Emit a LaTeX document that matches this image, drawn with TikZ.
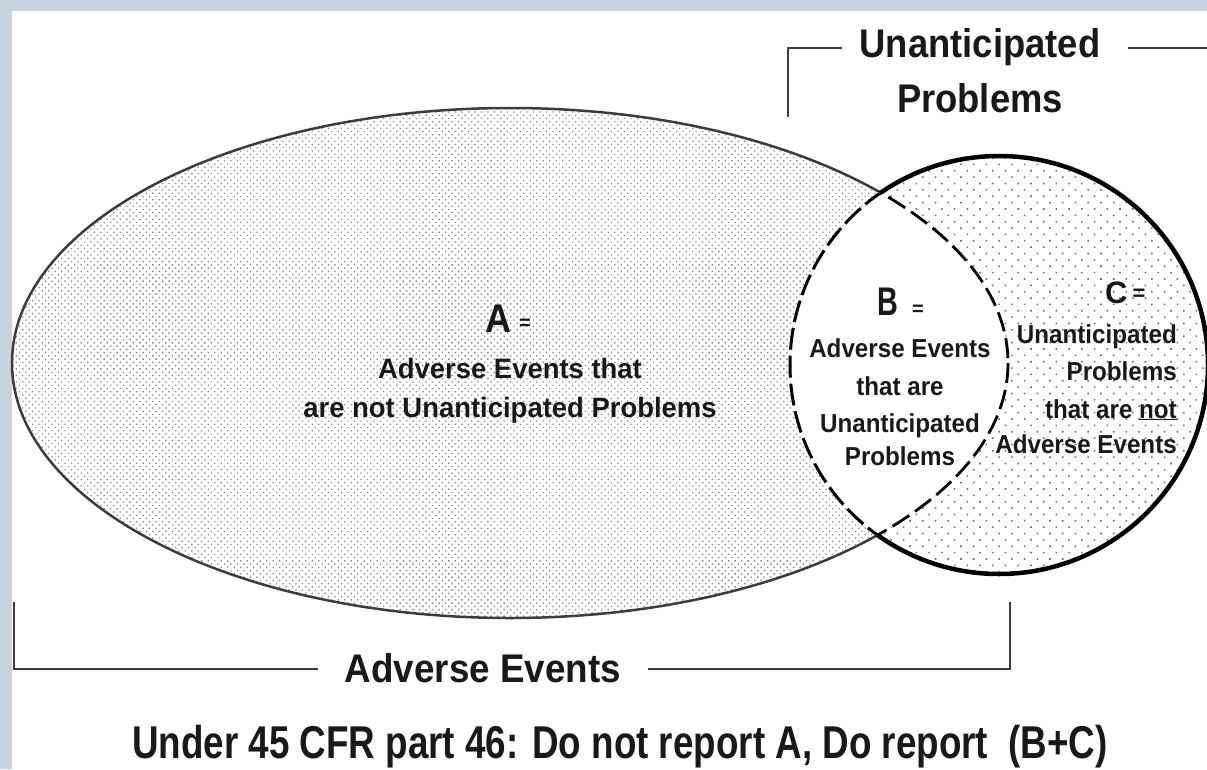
\documentclass[tikz,border=0pt]{standalone}
\usepackage{fontspec}
\setmainfont{Liberation Sans}
\usepackage{graphicx}
\usetikzlibrary{patterns.meta}
\definecolor{framecol}{HTML}{C9D3DB}
\definecolor{lineg}{HTML}{3C3C3C}
\newcommand\sx[2]{\scalebox{#1}[1]{#2}}
\newcommand\fs[1]{\fontsize{#1}{#1}\selectfont\bfseries}
\begin{document}
\begin{tikzpicture}[x=1pt,y=-1pt,
  lbl/.style={inner sep=0pt, anchor=base, text=black!90},
  lblw/.style={inner sep=0pt, anchor=base west, text=black!90},
  lble/.style={inner sep=0pt, anchor=base east, text=black!90},
  bracket/.style={draw=lineg, line width=2.5pt},
  ellfill/.style={pattern={Dots[radius=0.95pt,distance=4.6pt,angle=45]}, pattern color=black!45},
  cfill/.style={pattern={Dots[radius=1.15pt,distance=9pt,angle=45]}, pattern color=black!55},
  ellsolid/.style={draw=lineg, line width=2.5pt},
  elldash/.style={draw=black, line width=2.8pt, dash pattern=on 20pt off 7pt},
  circsolid/.style={draw=black, line width=4.5pt},
  circdash/.style={draw=black, line width=3pt, dash pattern=on 22pt off 6pt}]
\useasboundingbox (0,0) rectangle (1207,769);
\fill[framecol] (0,0) rectangle (1207,769);
\fill[white] (12,11) rectangle (1207,769);

\def\ecx{510}\def\ecy{363}\def\erx{498}\def\ery{255}
\def\ccx{999}\def\ccy{365}\def\crad{209}

% fills
\fill[ellfill] (\ecx,\ecy) ellipse [x radius=\erx, y radius=\ery];
\fill[white] (\ccx,\ccy) circle [radius=\crad];
\fill[cfill] (\ccx,\ccy) circle [radius=\crad];
\begin{scope}
  \clip (\ccx,\ccy) circle [radius=\crad];
  \fill[white] (\ecx,\ecy) ellipse [x radius=\erx, y radius=\ery];
  \path[elldash] (\ecx,\ecy) ellipse [x radius=\erx, y radius=\ery];
\end{scope}
\begin{scope}
  \clip (\ecx,\ecy) ellipse [x radius=\erx, y radius=\ery];
  \path[circdash] (\ccx,\ccy) circle [radius=\crad];
\end{scope}
\begin{scope}[even odd rule]
  \clip (0,0) rectangle (1207,769) (\ccx,\ccy) circle [radius=\crad];
  \path[ellsolid] (\ecx,\ecy) ellipse [x radius=\erx, y radius=\ery];
\end{scope}
\begin{scope}[even odd rule]
  \clip (0,0) rectangle (1207,769) (\ecx,\ecy) ellipse [x radius=\erx, y radius=\ery];
  \path[circsolid] (\ccx,\ccy) circle [radius=\crad];
\end{scope}

% top label and bracket
\node[lbl] (up1) at (980,57) {\fs{40}\sx{0.91}{Unanticipated}};
\node[lbl] (up2) at (980,112) {\fs{40}\sx{0.91}{Problems}};
\coordinate (tb1) at (788,117);
\coordinate (tb2) at (788,48);
\coordinate (tb3) at (842,48);
\coordinate (tb4) at (1128,48);
\coordinate (tb5) at (1207,48);
\draw[bracket] (tb1) -- (tb2) -- (tb3);
\draw[bracket] (tb4) -- (tb5);

% bottom label and bracket
\node[lbl] (ae) at (483,682) {\fs{40}\sx{0.92}{Adverse Events}};
\coordinate (bb1) at (14,602);
\coordinate (bb2) at (14,669);
\coordinate (bb3) at (318,669);
\coordinate (bb4) at (648,669);
\coordinate (bb5) at (1010,669);
\coordinate (bb6) at (1010,602);
\draw[bracket] (bb1) -- (bb2) -- (bb3);
\draw[bracket] (bb4) -- (bb5) -- (bb6);

% A
\node[lblw] (aeq) at (485,332) {\fs{40}\sx{0.9}{A}\hspace{8pt}\raisebox{3pt}{\fs{20}=}};
\node[lbl] (a1) at (510,378) {\fs{28}\sx{0.98}{Adverse Events that}};
\node[lbl] (a2) at (510,417) {\fs{28}\sx{0.98}{are not Unanticipated Problems}};

% B
\node[lblw] (beq) at (877,315) {\fs{40}\sx{0.72}{B}\hspace{14pt}\fs{20}=};
\node[lbl] (b1) at (900,357) {\fs{26}\sx{0.93}{Adverse Events}};
\node[lbl] (b2) at (900,395) {\fs{26}\sx{0.93}{that are}};
\node[lbl] (b3) at (900,432) {\fs{26}\sx{0.93}{Unanticipated}};
\node[lbl] (b4) at (900,465) {\fs{26}\sx{0.93}{Problems}};

% C
\node[lblw] (ceq) at (1105,303) {\fs{31}C\hspace{5pt}\raisebox{3pt}{\fs{22}=}};
\node[lble] (c1) at (1177,343) {\fs{26}\sx{0.93}{Unanticipated}};
\node[lble] (c2) at (1177,380) {\fs{26}\sx{0.93}{Problems}};
\node[lble] (c3) at (1177,418) {\fs{26}\sx{0.93}{that are \underline{not}}};
\node[lble] (c4) at (1177,453) {\fs{26}\sx{0.93}{Adverse Events}};

% bottom statement
\node[lbl] (stmt) at (620,758) {\fs{46}\sx{0.80}{Under 45 CFR part 46: Do not report A, Do report~~(B+C)}};
\end{tikzpicture}
\end{document}
